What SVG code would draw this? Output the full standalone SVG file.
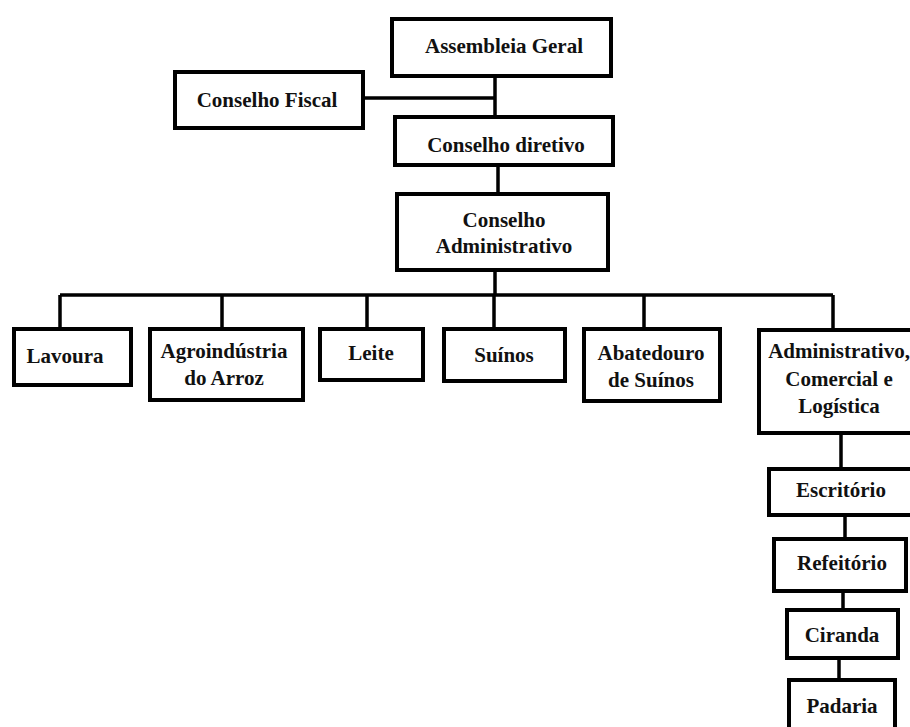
<svg xmlns="http://www.w3.org/2000/svg" width="910" height="727" viewBox="0 0 910 727">
<style>
.box{fill:#fff;stroke:#000;stroke-width:4}
.ln{stroke:#000;stroke-width:3.5;fill:none}
text{font-family:'Liberation Serif','Times New Roman',serif;font-weight:700;font-size:21px;fill:#111;text-anchor:middle}
</style>
<rect width="910" height="727" fill="#fff"/>
<g id="connectors">
<path class="ln" d="M495 78V115M365 98H495M498 167V192M495 272V295M60 295H833M60 295V327M222 295V327M367 295V327M494 295V327M644 295V327M833 295V328M841 435V467M845 517V537M843 593V608M839 660V678"/>
</g>
<g id="assembleia"><rect class="box" x="392" y="19" width="219" height="57"/><text x="504" y="53">Assembleia Geral</text></g>
<g id="fiscal"><rect class="box" x="175" y="72" width="188" height="56"/><text x="267" y="107">Conselho Fiscal</text></g>
<g id="diretivo"><rect class="box" x="395" y="117" width="218" height="48"/><text x="506" y="152">Conselho diretivo</text></g>
<g id="administrativo"><rect class="box" x="397" y="194" width="211" height="76"/><text x="504" y="227">Conselho</text><text x="504" y="253">Administrativo</text></g>
<g id="lavoura"><rect class="box" x="14" y="329" width="117" height="56"/><text x="65" y="363">Lavoura</text></g>
<g id="agro"><rect class="box" x="150" y="329" width="153" height="71"/><text x="224" y="358">Agroindústria</text><text x="224" y="385">do Arroz</text></g>
<g id="leite"><rect class="box" x="320" y="329" width="103" height="51"/><text x="371" y="360">Leite</text></g>
<g id="suinos"><rect class="box" x="444" y="329" width="121" height="52"/><text x="504" y="362">Suínos</text></g>
<g id="abatedouro"><rect class="box" x="584" y="329" width="136" height="72"/><text x="651" y="360">Abatedouro</text><text x="651" y="387">de Suínos</text></g>
<g id="admcom"><rect class="box" x="759" y="330" width="160" height="103"/><text x="839" y="358">Administrativo,</text><text x="839" y="386">Comercial e</text><text x="839" y="413">Logística</text></g>
<g id="escritorio"><rect class="box" x="769" y="469" width="150" height="46"/><text x="841" y="497">Escritório</text></g>
<g id="refeitorio"><rect class="box" x="774" y="539" width="132" height="52"/><text x="842" y="570">Refeitório</text></g>
<g id="ciranda"><rect class="box" x="787" y="610" width="111" height="48"/><text x="842" y="642">Ciranda</text></g>
<g id="padaria"><rect class="box" x="789" y="680" width="106" height="60"/><text x="842" y="713">Padaria</text></g>
</svg>
